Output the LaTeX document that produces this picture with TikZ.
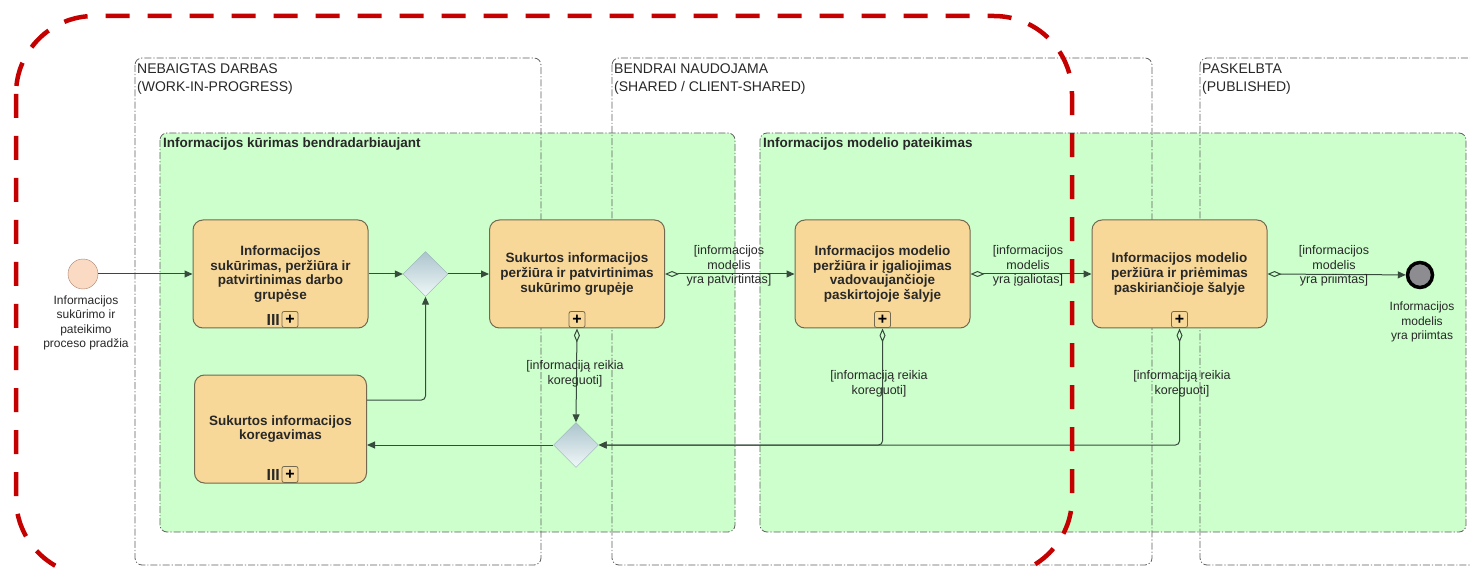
\documentclass[tikz,border=0pt]{standalone}
\usepackage{fontspec}
\setmainfont{Liberation Sans}
\usepackage{tikz}
\usetikzlibrary{arrows.meta,shapes.geometric}

\definecolor{redline}{RGB}{196,0,0}
\definecolor{lanegray}{RGB}{95,95,95}
\definecolor{subgreen}{RGB}{204,255,204}
\definecolor{taskfill}{RGB}{248,216,152}
\definecolor{taskline}{RGB}{115,105,80}
\definecolor{flowcol}{RGB}{55,75,60}
\definecolor{startfill}{RGB}{251,218,196}
\definecolor{startline}{RGB}{170,130,110}
\definecolor{endfill}{RGB}{140,140,145}
\definecolor{gwtop}{RGB}{172,196,205}
\definecolor{gwbot}{RGB}{240,248,248}
\definecolor{gwline}{RGB}{150,175,180}
\definecolor{txtcol}{RGB}{40,40,40}

\newcommand{\taskfont}{\fontsize{13.5}{14.7}\selectfont\bfseries}
\newcommand{\guardfont}{\fontsize{12.5}{14.5}\selectfont}
\newcommand{\evfont}{\fontsize{12}{14.5}\selectfont}
\newcommand{\lanefont}{\fontsize{14}{18}\selectfont}

\tikzset{
  lane/.style={draw=lanegray, line width=0.8pt, rounded corners=7pt,
    dash pattern=on 7pt off 2pt on 1.2pt off 2pt},
  subproc/.style={lane, fill=subgreen},
  task/.style={draw=taskline, fill=taskfill, line width=1pt, rounded corners=10pt,
    minimum width=175pt, minimum height=108pt, align=center, text=txtcol, font=\taskfont},
  plusbox/.style={draw=taskline, fill=taskfill, line width=0.8pt, rounded corners=2pt,
    minimum size=16pt, inner sep=0pt, font=\fontsize{16}{16}\selectfont\bfseries},
  multibars/.style={inner sep=0pt, font=\fontsize{16}{16}\selectfont\bfseries, text=txtcol},
  gw/.style={diamond, draw=gwline, top color=gwtop, bottom color=gwbot,
    minimum width=45pt, minimum height=45pt, inner sep=0pt},
  startev/.style={circle, draw=startline, fill=startfill, minimum size=30pt, inner sep=0pt},
  endev/.style={circle, draw=black, line width=3.5pt, fill=endfill, minimum size=25pt, inner sep=0pt},
  flow/.style={draw=flowcol, line width=1pt, -{Triangle[length=8pt,width=7pt]}},
  cond/.style={flow, {Diamond[open,length=14pt,width=6pt]}-{Triangle[length=8pt,width=7pt]}},
  guard/.style={font=\guardfont, text=txtcol, align=center, inner sep=0pt},
  evlabel/.style={font=\evfont, text=txtcol, align=center, inner sep=0pt},
  lanelabel/.style={font=\lanefont, text=txtcol, align=left, inner sep=0pt},
  subtitle/.style={font=\fontsize{13.5}{15}\selectfont\bfseries, text=txtcol, inner sep=0pt},
}

\begin{document}
\begin{tikzpicture}[x=1pt,y=-1pt]
\fill[white] (0,0) rectangle (1470,569);
\useasboundingbox (0,0) rectangle (1470,569);

% sub-processes
\draw[subproc] (160,133) rectangle (735,532);
\draw[subproc] (760,133) rectangle (1466,532);

% phases
\draw[lane] (135,58) rectangle (541,565);
\draw[lane] (612,58) rectangle (1152,565);
\draw[lane] (1200,58) rectangle (1500,565);
\node[lanelabel, anchor=north west] (wip) at (137,64) {NEBAIGTAS DARBAS\\(WORK-IN-PROGRESS)};
\node[lanelabel, anchor=north west] (shared) at (614,64) {BENDRAI NAUDOJAMA\\(SHARED / CLIENT-SHARED)};
\node[lanelabel, anchor=north west] (published) at (1202,64) {PASKELBTA\\(PUBLISHED)};
\node[subtitle, anchor=west] (sp1) at (163,144) {Informacijos kūrimas bendradarbiaujant};
\node[subtitle, anchor=west] (sp2) at (763,144) {Informacijos modelio pateikimas};

% events and gateways
\node[startev] (start) at (83,274) {};
\node[evlabel] (startlbl) at (86,323) {Informacijos\\sukūrimo ir\\pateikimo\\proceso pradžia};
\node[endev] (end) at (1420,275) {};
\node[evlabel] (endlbl) at (1422,322) {Informacijos\\modelis\\yra priimtas};
\node[gw] (gw1) at (425.5,274) {};
\node[gw] (gw2) at (576,445) {};

% tasks
\node[task] (t1) at (280.5,274) {Informacijos\\sukūrimas, peržiūra ir\\patvirtinimas darbo\\grupėse};
\node[task] (t2) at (577,274) {Sukurtos informacijos\\peržiūra ir patvirtinimas\\sukūrimo grupėje};
\node[task] (t3) at (882.5,274) {Informacijos modelio\\peržiūra ir įgaliojimas\\vadovaujančioje\\paskirtojoje šalyje};
\node[task] (t4) at (1179.5,274) {Informacijos modelio\\peržiūra ir priėmimas\\paskiriančioje šalyje};
\node[task, minimum width=172pt] (t5) at (280.5,429) {Sukurtos informacijos\\koregavimas};

% markers
\node[plusbox] (t1plus) at ([xshift=9.5pt,yshift=9pt]t1.south) {+};
\node[multibars, anchor=east] (t1bars) at ([xshift=-1.5pt]t1plus.west) {III};
\node[plusbox] (t2plus) at ([yshift=9pt]t2.south) {+};
\node[plusbox] (t3plus) at ([yshift=9pt]t3.south) {+};
\node[plusbox] (t4plus) at ([yshift=9pt]t4.south) {+};
\node[plusbox] (t5plus) at ([xshift=9.5pt,yshift=9pt]t5.south) {+};
\node[multibars, anchor=east] (t5bars) at ([xshift=-1.5pt]t5plus.west) {III};

% flows
\draw[flow] (start) -- (t1);
\draw[flow] (t1) -- (gw1);
\draw[flow] (gw1) -- (t2);
\draw[cond] (t2.east) -- (t3.west);
\draw[cond] (t3.east) -- (t4.west);
\draw[cond] (t4.east) -- (end);
\draw[cond] (t2.south) -- (gw2.north);
\draw[cond, rounded corners=4pt] (t3.south) |- (gw2.east);
\draw[cond, rounded corners=4pt] (t4.south) |- (gw2.east);
\draw[flow] (gw2.west) -- (gw2.west -| t5.east);
\draw[flow, rounded corners=4pt] ([yshift=29pt]t5.east) -| (gw1.south);

\node[guard] (g23) at (729,266) {[informacijos\\modelis\\yra patvirtintas]};
\node[guard] (g34) at (1028,266) {[informacijos\\modelis\\yra įgaliotas]};
\node[guard] (g4e) at (1334,266) {[informacijos\\modelis\\yra priimtas]};
\node[guard] (g2) at (575,374) {[informaciją reikia\\koreguoti]};
\node[guard] (g3) at (879,384) {[informaciją reikia\\koreguoti]};
\node[guard] (g4) at (1182,384) {[informaciją reikia\\koreguoti]};

% scope of the shared work
\draw[redline, line width=4.5pt, dash pattern=on 24pt off 18pt, rounded corners=78pt] (16,16) rectangle (1072,576);
\end{tikzpicture}
\end{document}
